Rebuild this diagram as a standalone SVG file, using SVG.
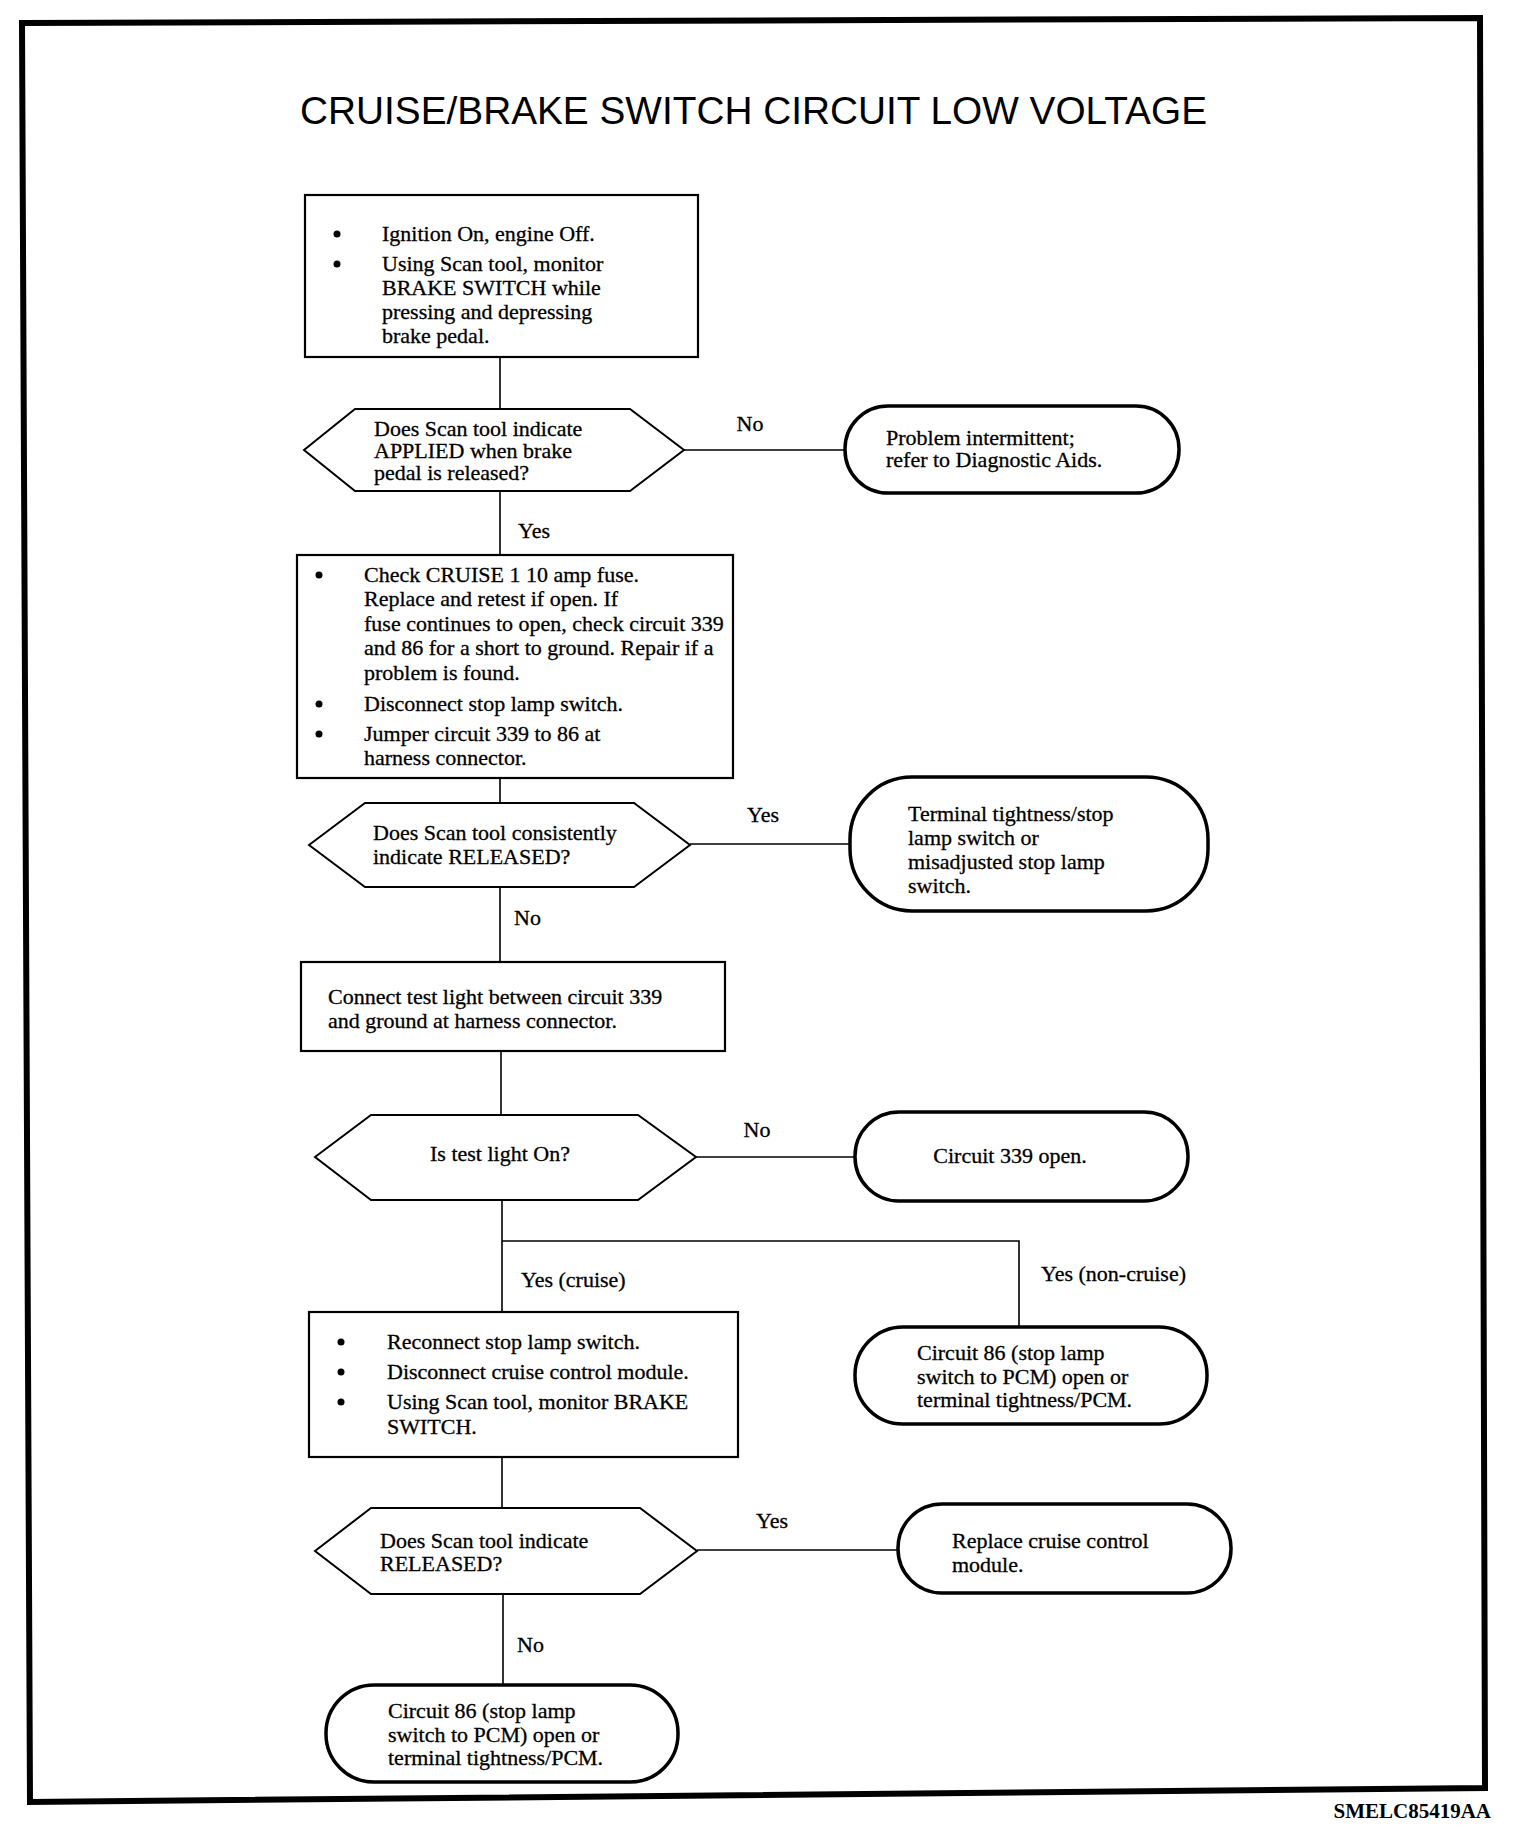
<svg xmlns="http://www.w3.org/2000/svg" width="1520" height="1836" viewBox="0 0 1520 1836">
<style>
.t{font-family:"Liberation Serif","Times New Roman",serif;font-size:22px;fill:#000;stroke:#000;stroke-width:0.3}
.box{fill:#fff;stroke:#000;stroke-width:2.2}
.term{fill:#fff;stroke:#000;stroke-width:3.5}
.hex{fill:#fff;stroke:#000;stroke-width:2}
.ln{fill:none;stroke:#000;stroke-width:1.6}
</style>
<rect x="0" y="0" width="1520" height="1836" fill="#fff"/>
<polygon points="22,23 1480,18 1485,1788 30,1802" fill="none" stroke="#000" stroke-width="6"/>
<text x="300" y="124" font-family="Liberation Sans,Arial,sans-serif" font-size="39" textLength="907" lengthAdjust="spacingAndGlyphs">CRUISE/BRAKE SWITCH CIRCUIT LOW VOLTAGE</text>
<text x="1491" y="1818" text-anchor="end" font-family="Liberation Serif,serif" font-weight="bold" font-size="21">SMELC85419AA</text>

<g id="connectors">
<line class="ln" x1="500" y1="357" x2="500" y2="409"/>
<line class="ln" x1="684" y1="450" x2="845" y2="450"/>
<line class="ln" x1="500" y1="491" x2="500" y2="555"/>
<line class="ln" x1="500" y1="778" x2="500" y2="803"/>
<line class="ln" x1="690" y1="844" x2="850" y2="844"/>
<line class="ln" x1="500" y1="887" x2="500" y2="962"/>
<line class="ln" x1="501" y1="1051" x2="501" y2="1115"/>
<line class="ln" x1="696" y1="1157" x2="855" y2="1157"/>
<line class="ln" x1="502" y1="1200" x2="502" y2="1312"/>
<polyline class="ln" points="502,1241 1019,1241 1019,1327"/>
<line class="ln" x1="502" y1="1457" x2="502" y2="1508"/>
<line class="ln" x1="697" y1="1550" x2="898" y2="1550"/>
<line class="ln" x1="503" y1="1594" x2="503" y2="1685"/>
<text class="t" x="750" y="431" text-anchor="middle">No</text>
<text class="t" x="518" y="538">Yes</text>
<text class="t" x="763" y="822" text-anchor="middle">Yes</text>
<text class="t" x="514" y="925">No</text>
<text class="t" x="757" y="1137" text-anchor="middle">No</text>
<text class="t" x="521" y="1287">Yes (cruise)</text>
<text class="t" x="1041" y="1281">Yes (non-cruise)</text>
<text class="t" x="772" y="1528" text-anchor="middle">Yes</text>
<text class="t" x="517" y="1652">No</text>
</g>

<g id="n1">
<rect class="box" x="305" y="195" width="393" height="162"/>
<circle cx="337" cy="234" r="3.5"/>
<circle cx="337" cy="264" r="3.5"/>
<text class="t" x="382" y="241">Ignition On, engine Off.</text>
<text class="t" x="382" y="271">Using Scan tool, monitor</text>
<text class="t" x="382" y="295">BRAKE SWITCH while</text>
<text class="t" x="382" y="319">pressing and depressing</text>
<text class="t" x="382" y="343">brake pedal.</text>
</g>

<g id="n2">
<polygon class="hex" points="304,450 355,409 630,409 684,450 630,491 355,491"/>
<text class="t" x="374" y="436">Does Scan tool indicate</text>
<text class="t" x="374" y="458">APPLIED when brake</text>
<text class="t" x="374" y="480">pedal is released?</text>
</g>

<g id="n3">
<rect class="term" x="845" y="406" width="334" height="87" rx="43" ry="43"/>
<text class="t" x="886" y="445">Problem intermittent;</text>
<text class="t" x="886" y="467">refer to Diagnostic Aids.</text>
</g>

<g id="n4">
<rect class="box" x="297" y="555" width="436" height="223"/>
<circle cx="319" cy="575" r="3.5"/>
<circle cx="319" cy="704" r="3.5"/>
<circle cx="319" cy="734" r="3.5"/>
<text class="t" x="364" y="582">Check CRUISE 1 10 amp fuse.</text>
<text class="t" x="364" y="606">Replace and retest if open. If</text>
<text class="t" x="364" y="631">fuse continues to open, check circuit 339</text>
<text class="t" x="364" y="655">and 86 for a short to ground. Repair if a</text>
<text class="t" x="364" y="680">problem is found.</text>
<text class="t" x="364" y="711">Disconnect stop lamp switch.</text>
<text class="t" x="364" y="741">Jumper circuit 339 to 86 at</text>
<text class="t" x="364" y="765">harness connector.</text>
</g>

<g id="n5">
<polygon class="hex" points="309,845 365,803 634,803 690,845 634,887 365,887"/>
<text class="t" x="373" y="840">Does Scan tool consistently</text>
<text class="t" x="373" y="864">indicate RELEASED?</text>
</g>

<g id="n6">
<rect class="term" x="850" y="777" width="358" height="134" rx="62" ry="62"/>
<text class="t" x="908" y="821">Terminal tightness/stop</text>
<text class="t" x="908" y="845">lamp switch or</text>
<text class="t" x="908" y="869">misadjusted stop lamp</text>
<text class="t" x="908" y="893">switch.</text>
</g>

<g id="n7">
<rect class="box" x="301" y="962" width="424" height="89"/>
<text class="t" x="328" y="1004">Connect test light between circuit 339</text>
<text class="t" x="328" y="1028">and ground at harness connector.</text>
</g>

<g id="n8">
<polygon class="hex" points="315,1157 371,1115 638,1115 696,1157 638,1200 371,1200"/>
<text class="t" x="500" y="1161" text-anchor="middle">Is test light On?</text>
</g>

<g id="n9">
<rect class="term" x="855" y="1112" width="333" height="89" rx="44" ry="44"/>
<text class="t" x="1010" y="1163" text-anchor="middle">Circuit 339 open.</text>
</g>

<g id="n10">
<rect class="box" x="309" y="1312" width="429" height="145"/>
<circle cx="341" cy="1342" r="3.5"/>
<circle cx="341" cy="1372" r="3.5"/>
<circle cx="341" cy="1402" r="3.5"/>
<text class="t" x="387" y="1349">Reconnect stop lamp switch.</text>
<text class="t" x="387" y="1379">Disconnect cruise control module.</text>
<text class="t" x="387" y="1409">Using Scan tool, monitor BRAKE</text>
<text class="t" x="387" y="1434">SWITCH.</text>
</g>

<g id="n11">
<rect class="term" x="855" y="1327" width="352" height="97" rx="48" ry="48"/>
<text class="t" x="917" y="1360">Circuit 86 (stop lamp</text>
<text class="t" x="917" y="1384">switch to PCM) open or</text>
<text class="t" x="917" y="1407">terminal tightness/PCM.</text>
</g>

<g id="n12">
<polygon class="hex" points="315,1551 371,1508 640,1508 697,1551 640,1594 371,1594"/>
<text class="t" x="380" y="1548">Does Scan tool indicate</text>
<text class="t" x="380" y="1571">RELEASED?</text>
</g>

<g id="n13">
<rect class="term" x="898" y="1504" width="333" height="89" rx="44" ry="44"/>
<text class="t" x="952" y="1548">Replace cruise control</text>
<text class="t" x="952" y="1572">module.</text>
</g>

<g id="n14">
<rect class="term" x="326" y="1685" width="352" height="97" rx="48" ry="48"/>
<text class="t" x="388" y="1718">Circuit 86 (stop lamp</text>
<text class="t" x="388" y="1742">switch to PCM) open or</text>
<text class="t" x="388" y="1765">terminal tightness/PCM.</text>
</g>
</svg>
